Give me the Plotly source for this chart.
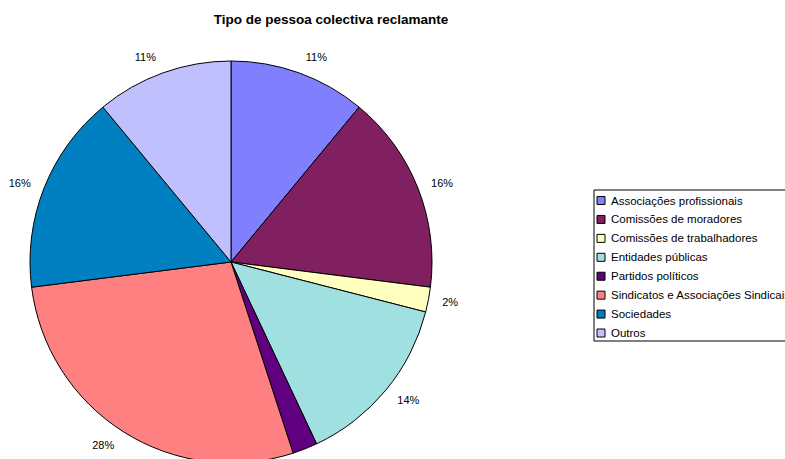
import plotly.graph_objects as go

# Tipos de pessoa colectiva reclamante (percentagem)
categorias = [
    "Associações profissionais",
    "Comissões de moradores",
    "Comissões de trabalhadores",
    "Entidades públicas",
    "Partidos políticos",
    "Sindicatos e Associações Sindicais",
    "Sociedades",
    "Outros",
]
valores = [11, 16, 2, 14, 2, 28, 16, 11]
cores = ["#8080FF", "#802060", "#FFFFC0", "#A0E0E0",
         "#600080", "#FF8080", "#0080C0", "#C0C0FF"]

FONT = "Arial, Liberation Sans, sans-serif"
W, H = 785, 477           # the pie runs slightly past the visible bottom edge
T, B = 50, 3              # plot area: y from 50 to 474 px
PLOT_H = H - T - B

CX, CY, R = 231, 262, 201  # pie centre and radius, px
LABEL_GAP = 11             # extra distance of the percentage labels


def px_x(x):
    return x / W


def px_y(y):
    return (H - B - y) / PLOT_H


def domain(r):
    return dict(x=[px_x(CX - r), px_x(CX + r)],
                y=[px_y(CY + r), px_y(CY - r)])


pie_common = dict(labels=categorias, values=valores, sort=False,
                  direction="clockwise", rotation=0, automargin=False,
                  showlegend=False)

fig = go.Figure()
# the slices
fig.add_trace(go.Pie(
    **pie_common,
    marker=dict(colors=cores, line=dict(color="black", width=1)),
    textinfo="none",
    hoverinfo="label+percent",
    domain=domain(R),
))
# percentage labels, set a little further out than the slice edge
fig.add_trace(go.Pie(
    **pie_common,
    marker=dict(colors=["rgba(0,0,0,0)"] * len(valores),
                line=dict(width=0)),
    textposition="outside",
    texttemplate="%{percent:.0%}",
    textfont=dict(family=FONT, size=11, color="black"),
    hoverinfo="skip",
    domain=domain(R + LABEL_GAP),
))

# legend box, drawn as a frame with a swatch and a caption per category
LEG_LEFT, LEG_TOP, LEG_BOTTOM = 594, 190, 341
ROW0, ROW_STEP = 200.5, 18.93
shapes = [dict(type="rect", xref="paper", yref="paper",
               x0=px_x(LEG_LEFT), x1=px_x(LEG_LEFT + 260),
               y0=px_y(LEG_TOP), y1=px_y(LEG_BOTTOM),
               line=dict(color="black", width=1), fillcolor="white",
               layer="above")]
annotations = []
for i, (nome, cor) in enumerate(zip(categorias, cores)):
    cy = ROW0 + i * ROW_STEP
    shapes.append(dict(type="rect", xref="paper", yref="paper",
                       x0=px_x(597), x1=px_x(605),
                       y0=px_y(cy - 4), y1=px_y(cy + 4),
                       line=dict(color="black", width=1), fillcolor=cor,
                       layer="above"))
    annotations.append(dict(xref="paper", yref="paper",
                            x=px_x(609), y=px_y(cy),
                            xanchor="left", yanchor="middle",
                            text=nome, showarrow=False,
                            font=dict(family=FONT, size=11.5, color="black")))

fig.update_layout(
    width=W,
    height=H,
    margin=dict(l=0, r=0, t=T, b=B),
    paper_bgcolor="white",
    plot_bgcolor="white",
    font=dict(family=FONT, size=11, color="black"),
    title=dict(
        text="<b>Tipo de pessoa colectiva reclamante</b>",
        x=331 / W,
        xanchor="center",
        y=1 - 19.5 / H,
        yanchor="middle",
        font=dict(family=FONT, size=13.5, color="black"),
    ),
    shapes=shapes,
    annotations=annotations,
)

fig.write_html(
    "out.html",
    post_script="document.documentElement.style.overflow='hidden';"
                "document.body.style.overflow='hidden';",
)
